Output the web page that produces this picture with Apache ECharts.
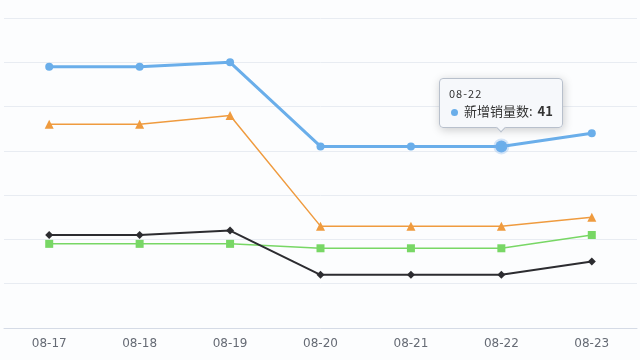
<!DOCTYPE html>
<html><head><meta charset="utf-8">
<script src="https://cdn.jsdelivr.net/npm/echarts@6/dist/echarts.min.js"></script>
<style>html,body{margin:0;padding:0;background:#fcfdfe;}#c{width:640px;height:360px;}</style>
</head><body><div id="c"></div>
<script>
const categories = ['08-17','08-18','08-19','08-20','08-21','08-22','08-23'];
const seriesNames = ['新增销量数','系列二','系列三','系列四'];
const blueValues = [59, 59, 60, 41, 41, 41, 44];
const orangeValues = [46, 46, 48, 23, 23, 23, 25];
const greenValues = [19, 19, 19, 18, 18, 18, 21];
const blackValues = [21, 21, 22, 12, 12, 12, 15];
const tipIndex = 5;

const chart = echarts.init(document.getElementById('c'), null, {renderer: 'canvas'});
chart.setOption({
  backgroundColor: '#fcfdfe',
  animation: false,
  grid: {left: 4, right: 3, top: 18, bottom: 32},
  tooltip: {
    trigger: 'item',
    position: 'top',
    alwaysShowContent: true,
    backgroundColor: 'rgba(246,248,251,0.97)',
    borderColor: '#b8c0cc',
    borderWidth: 1,
    padding: [7, 9],
    textStyle: {color: '#333', fontFamily: 'Noto Sans CJK SC'},
    formatter: function (p) {
      const dot = '<span style="display:inline-block;margin-right:6px;border-radius:4px;width:7px;height:7px;vertical-align:middle;background-color:' + p.color + '"></span>';
      return '<div style="font-size:11px;line-height:15px;letter-spacing:1px;color:#333">' + p.name + '</div>' +
        '<div style="font-size:13px;line-height:19px;color:#333;padding-left:2px">' + dot + p.seriesName + ': <b style="margin-left:2px">' + p.value + '</b></div>';
    }
  },
  xAxis: {
    type: 'category',
    data: categories,
    boundaryGap: true,
    axisLine: {lineStyle: {color: '#d5dbe6'}},
    axisTick: {length: 6, lineStyle: {color: '#d5dbe6'}},
    axisLabel: {color: '#666b75', fontSize: 12, margin: 10, fontFamily: 'DejaVu Sans'}
  },
  yAxis: {
    type: 'value', min: 0, max: 70, interval: 10,
    axisLabel: {show: false},
    axisLine: {show: false}, axisTick: {show: false},
    splitLine: {lineStyle: {color: '#e8ecf2'}}
  },
  series: [
    {
      name: seriesNames[0], type: 'line', data: blueValues.map((v, i) => i === tipIndex ? {value: v, symbolSize: 12, itemStyle: {borderColor: 'rgba(120,175,235,0.3)', borderWidth: 4}} : v),
      symbol: 'circle', symbolSize: 8, z: 5,
      lineStyle: {color: '#6aaeea', width: 3}, itemStyle: {color: '#6aaeea'},
      emphasis: {disabled: true}
    },
    {
      name: seriesNames[1], type: 'line', data: orangeValues,
      symbol: 'triangle', symbolSize: 9,
      lineStyle: {color: '#ef9b3f', width: 1.5}, itemStyle: {color: '#ef9b3f'},
      emphasis: {disabled: true}
    },
    {
      name: seriesNames[2], type: 'line', data: greenValues,
      symbol: 'rect', symbolSize: 8,
      lineStyle: {color: '#78d765', width: 1.5}, itemStyle: {color: '#78d765'},
      emphasis: {disabled: true}
    },
    {
      name: seriesNames[3], type: 'line', data: blackValues,
      symbol: 'diamond', symbolSize: 8,
      lineStyle: {color: '#2c2c30', width: 2}, itemStyle: {color: '#2c2c30'},
      emphasis: {disabled: true}
    }
  ]
});
chart.dispatchAction({type: 'showTip', seriesIndex: 0, dataIndex: tipIndex});
</script></body></html>
